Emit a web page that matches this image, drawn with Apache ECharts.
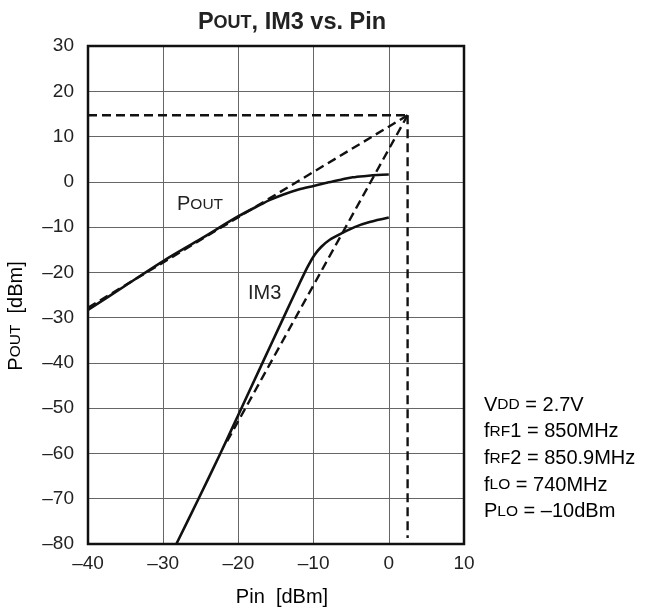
<!DOCTYPE html>
<html>
<head>
<meta charset="utf-8">
<script src="https://cdn.jsdelivr.net/npm/echarts@6/dist/echarts.min.js"></script>
<style>
  html, body { margin: 0; padding: 0; background: #fff; }
  #chart { width: 649px; height: 613px; }
</style>
</head>
<body>
<div id="chart"></div>
<script>
// measured curves (Pin dBm, dBm)
const poutData = [
  [-40, -28.3], [-35, -22.9], [-30, -17.5], [-25, -12.6], [-20, -7.6],
  [-17, -5.0], [-15.8, -4.0], [-14, -2.8], [-12, -1.7], [-10, -0.9],
  [-8, -0.1], [-6, 0.6], [-4.8, 1.0], [-3, 1.3], [-1.5, 1.5], [0, 1.6]
]
const im3Data = [
  [-28.25, -80], [-25.3, -70], [-22.4, -60], [-19.6, -50], [-16.8, -40],
  [-14.0, -30], [-12.0, -22.9], [-10.8, -18.8], [-9.9, -16.2], [-9.0, -14.4],
  [-7.9, -12.85], [-6.3, -11.4], [-4.55, -10], [-2.55, -8.9], [0, -7.9]
]
// third-order intercept construction lines
const poutExtrap = [[-40, -27.8], [2.5, 14.7]]
const im3Extrap = [[-21.5, -57.3], [2.5, 14.7]]
const oip3Line = [[-40, 14.7], [2.5, 14.7]]
const iip3Line = [[2.5, 14.7], [2.5, -78.7]]

const xTicks = [-40, -30, -20, -10, 0, 10]
const yTicks = [-80, -70, -60, -50, -40, -30, -20, -10, 0, 10, 20, 30]

const poutLabelPos = [-25.1, -5.1]
const im3LabelPos = [-16.5, -24.6]

const conditions = [
  '{n|V}{s|DD}{n| = 2.7V}',
  '{n|f}{s|RF}{n|1 = 850MHz}',
  '{n|f}{s|RF}{n|2 = 850.9MHz}',
  '{n|f}{s|LO}{n| = 740MHz}',
  '{n|P}{s|LO}{n| = –10dBm}'
]

const FONT = '"Liberation Sans", Arial, Helvetica, sans-serif'
const dash = v => String(v).replace('-', '–')

const chart = echarts.init(document.getElementById('chart'))

const richText = {
  n: { fontSize: 20, fontFamily: FONT, color: '#222' },
  s: { fontSize: 15.5, fontFamily: FONT, color: '#222' }
}

const solid = {
  type: 'line',
  showSymbol: false,
  symbol: 'none',
  smooth: 0.3,
  lineStyle: { color: '#111', width: 2.6 },
  z: 3
}
const dashed = data => ({
  type: 'line',
  data: data,
  symbol: 'none',
  lineStyle: { color: '#111', width: 2.4, type: [9, 5] },
  z: 2
})

const option = {
  animation: false,
  title: {
    text: '{a|P}{b|OUT}{a|, IM3 vs. Pin}',
    left: 287,
    top: 6,
    textAlign: 'center',
    textStyle: {
      rich: {
        a: { fontSize: 23.5, fontWeight: 'bold', fontFamily: FONT, color: '#222' },
        b: { fontSize: 18, fontWeight: 'bold', fontFamily: FONT, color: '#222' }
      }
    }
  },
  grid: { left: 88, right: 185, top: 46, bottom: 69 },
  xAxis: {
    type: 'value',
    min: xTicks[0],
    max: xTicks[xTicks.length - 1],
    interval: 10,
    axisLine: { show: false },
    axisTick: { show: false },
    axisLabel: {
      margin: 10,
      fontSize: 19,
      fontFamily: FONT,
      color: '#222',
      formatter: dash
    },
    splitLine: { show: true, lineStyle: { color: '#666', width: 1 } }
  },
  yAxis: {
    type: 'value',
    min: yTicks[0],
    max: yTicks[yTicks.length - 1],
    interval: 10,
    axisLine: { show: false },
    axisTick: { show: false },
    axisLabel: {
      margin: 14,
      fontSize: 19,
      fontFamily: FONT,
      color: '#222',
      formatter: dash
    },
    splitLine: { show: true, lineStyle: { color: '#666', width: 1 } }
  },
  series: [
    Object.assign({}, solid, {
      name: 'POUT',
      data: poutData,
      markPoint: {
        symbolSize: 0,
        label: {
          show: true,
          formatter: '{n|P}{s|OUT}',
          rich: richText
        },
        data: [{ coord: poutLabelPos }]
      }
    }),
    Object.assign({}, solid, {
      name: 'IM3',
      data: im3Data,
      markPoint: {
        symbolSize: 0,
        label: {
          show: true,
          formatter: '{n|IM3}',
          rich: richText
        },
        data: [{ coord: im3LabelPos }]
      }
    }),
    dashed(poutExtrap),
    dashed(im3Extrap),
    dashed(oip3Line),
    dashed(iip3Line)
  ],
  graphic: [
    {
      type: 'rect',
      shape: { x: 88, y: 46, width: 376, height: 498 },
      style: { fill: 'none', stroke: '#111', lineWidth: 2.5 },
      z: 10
    },
    {
      type: 'text',
      x: 16,
      y: 316,
      rotation: Math.PI / 2,
      style: {
        text: '{n|P}{s|OUT}{n|  [dBm]}',
        rich: richText,
        align: 'center',
        verticalAlign: 'middle'
      }
    },
    {
      type: 'text',
      x: 282,
      y: 597,
      style: {
        text: '{n|Pin  [dBm]}',
        rich: richText,
        align: 'center',
        verticalAlign: 'middle'
      }
    }
  ].concat(conditions.map((t, i) => ({
    type: 'text',
    x: 484,
    y: 405 + i * 26.7,
    style: {
      text: t,
      rich: richText,
      align: 'left',
      verticalAlign: 'middle'
    }
  })))
}

chart.setOption(option)
</script>
</body>
</html>
